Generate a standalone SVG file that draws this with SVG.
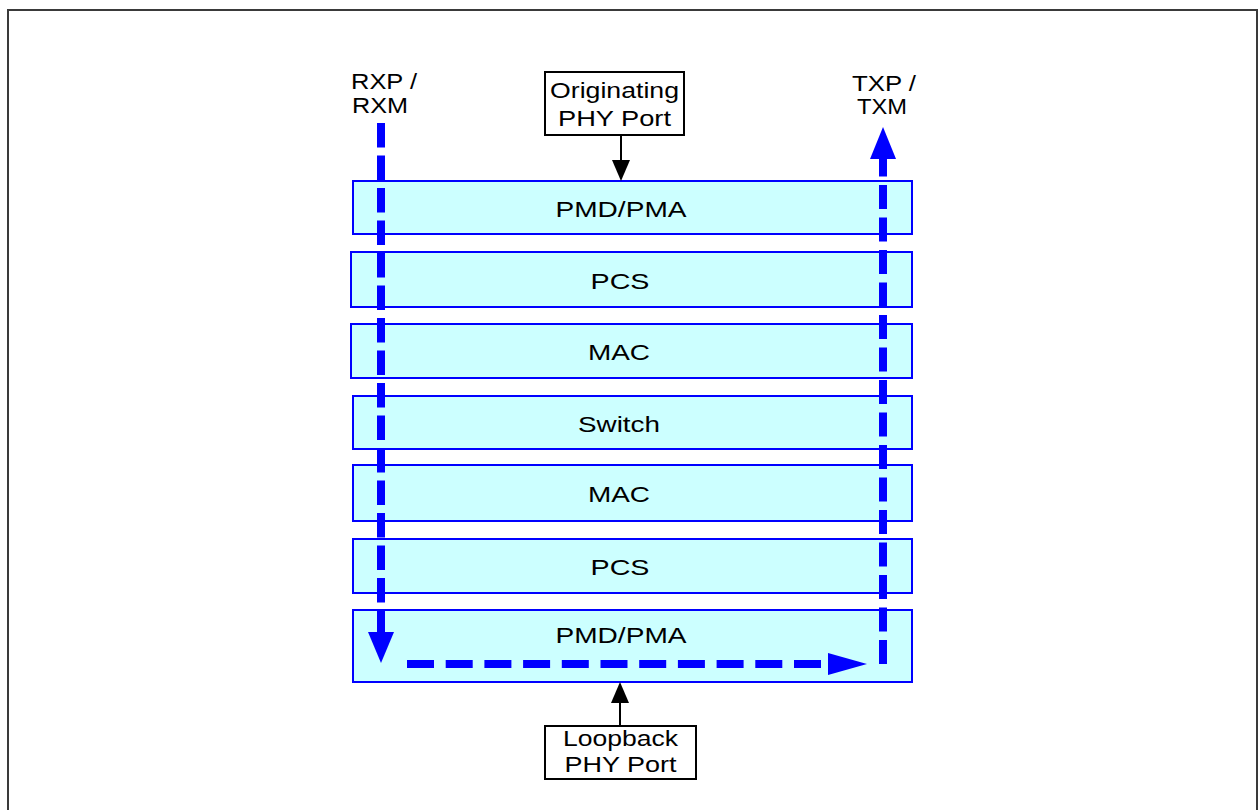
<svg xmlns="http://www.w3.org/2000/svg" width="1258" height="810" viewBox="0 0 1258 810">
<style>
.frame{fill:none;stroke:#3a3a3a;stroke-width:2}
.layer rect{fill:#ccffff;stroke:#0000ff;stroke-width:2}
.port rect{fill:#ffffff;stroke:#000000;stroke-width:2}
text{font-family:"Liberation Sans",Arial,sans-serif;font-size:21.5px;fill:#000000}
.c{text-anchor:middle}
.flow{fill:none;stroke:#0000ff;stroke-width:8}
.flowhead{fill:#0000ff}
.ptr{stroke:#000000;stroke-width:2;fill:none}
.ptrhead{fill:#000000}
</style>
<rect width="1258" height="810" fill="#ffffff"/>
<rect class="frame" x="8" y="10" width="1249" height="830"/>

<g id="layer-pmd-top" class="layer">
<rect x="353" y="181" width="559" height="53"/>
<text class="c" x="621" y="216.5" textLength="131" lengthAdjust="spacingAndGlyphs">PMD/PMA</text>
</g>
<g id="layer-pcs-top" class="layer">
<rect x="351" y="252" width="561" height="55"/>
<text class="c" x="620" y="288.5" textLength="59" lengthAdjust="spacingAndGlyphs">PCS</text>
</g>
<g id="layer-mac-top" class="layer">
<rect x="351" y="324" width="561" height="54"/>
<text class="c" x="619" y="360" textLength="62" lengthAdjust="spacingAndGlyphs">MAC</text>
</g>
<g id="layer-switch" class="layer">
<rect x="353" y="396" width="559" height="53"/>
<text class="c" x="619" y="431.5" textLength="82" lengthAdjust="spacingAndGlyphs">Switch</text>
</g>
<g id="layer-mac-bottom" class="layer">
<rect x="353" y="465" width="559" height="56"/>
<text class="c" x="619" y="502" textLength="62" lengthAdjust="spacingAndGlyphs">MAC</text>
</g>
<g id="layer-pcs-bottom" class="layer">
<rect x="353" y="539" width="559" height="54"/>
<text class="c" x="620" y="575" textLength="59" lengthAdjust="spacingAndGlyphs">PCS</text>
</g>
<g id="layer-pmd-bottom" class="layer">
<rect x="353" y="610" width="559" height="72"/>
<text class="c" x="621" y="642.5" textLength="131" lengthAdjust="spacingAndGlyphs">PMD/PMA</text>
</g>

<g id="port-originating" class="port">
<rect x="545" y="72" width="139" height="63"/>
<text class="c" x="614.5" y="98" textLength="129" lengthAdjust="spacingAndGlyphs">Originating</text>
<text class="c" x="614.5" y="126" textLength="113" lengthAdjust="spacingAndGlyphs">PHY Port</text>
</g>
<g id="port-loopback" class="port">
<rect x="545" y="726" width="151" height="53"/>
<text class="c" x="620.5" y="745.5" textLength="115" lengthAdjust="spacingAndGlyphs">Loopback</text>
<text class="c" x="620.5" y="771.5" textLength="112" lengthAdjust="spacingAndGlyphs">PHY Port</text>
</g>

<g id="label-rx">
<text x="351" y="89" textLength="66" lengthAdjust="spacingAndGlyphs">RXP /</text>
<text x="352" y="113" textLength="56" lengthAdjust="spacingAndGlyphs">RXM</text>
</g>
<g id="label-tx">
<text class="c" x="884" y="91" textLength="64" lengthAdjust="spacingAndGlyphs">TXP /</text>
<text class="c" x="882" y="114" textLength="50" lengthAdjust="spacingAndGlyphs">TXM</text>
</g>

<g id="connectors">
<path class="flow" d="M381 123 L381 632" stroke-dasharray="24.5 8"/>
<polygon class="flowhead" points="368,632 394,632 381,663"/>
<path class="flow" d="M407 664 L828 664" stroke-dasharray="27 11.7"/>
<polygon class="flowhead" points="828,653 828,675 867,664"/>
<path class="flow" d="M883 664 L883 159" stroke-dasharray="24 8.5"/>
<polygon class="flowhead" points="870,159 896,159 883,127"/>
<line class="ptr" x1="621" y1="135" x2="621" y2="161"/>
<polygon class="ptrhead" points="612,160 630,160 621,181"/>
<line class="ptr" x1="620" y1="726" x2="620" y2="702"/>
<polygon class="ptrhead" points="611,703 629,703 620,682"/>
</g>
</svg>
